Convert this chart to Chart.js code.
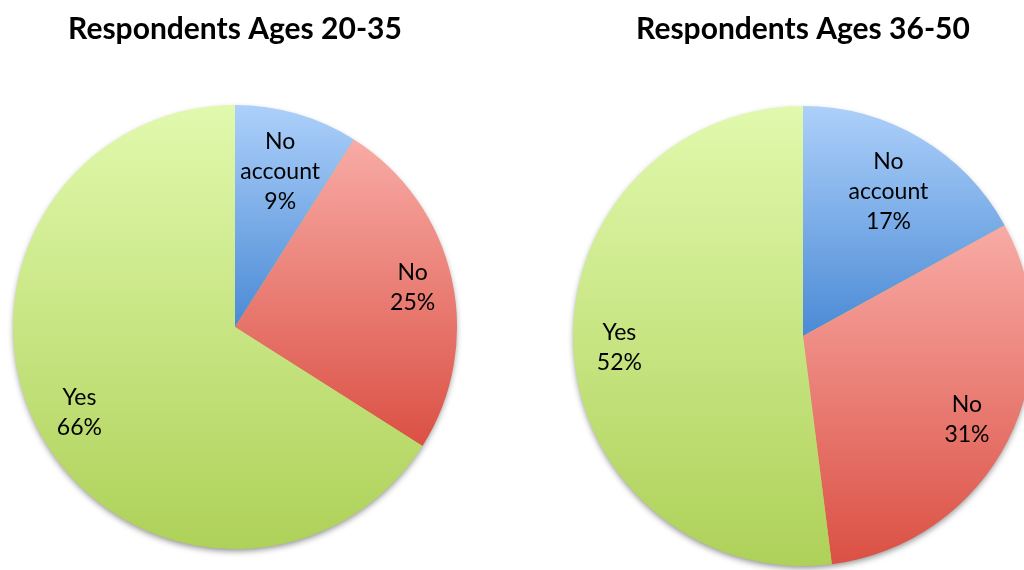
<!DOCTYPE html>
<html>
<head>
<meta charset="utf-8">
<script src="https://cdn.jsdelivr.net/npm/chart.js@4.4.1/dist/chart.umd.min.js"></script>
<style>
  html, body { margin: 0; padding: 0; background: #fff; overflow: hidden; }
  body { width: 1024px; height: 570px; position: relative; }
  .box { position: absolute; top: 0; height: 570px; }
  #left { left: 0; width: 470px; }
  #right { left: 563px; width: 480px; }
</style>
</head>
<body>
<div class="box" id="left"><canvas id="pieYoung"></canvas></div>
<div class="box" id="right"><canvas id="pieOlder"></canvas></div>
<script>
var categories = ["No account", "No", "Yes"];
var young = [9, 25, 66];
var older = [17, 31, 52];
var titles = ["Respondents Ages 20-35", "Respondents Ages 36-50"];

// top / bottom colours of each slice gradient
var topColors = ["#add0fa", "#f8aba5", "#e1f9ad"];
var bottomColors = ["#4a8ad5", "#db5044", "#aed159"];

// how far out (fraction of radius) each label sits
var labelPosYoung = [0.73, 0.82, 0.80];
var labelPosOlder = [0.73, 0.80, 0.80];

function sliceGradient(c) {
  var chart = c.chart, area = chart.chartArea;
  var i = c.dataIndex;
  if (!area) return topColors[i];
  var vals = c.dataset.data;
  var total = vals.reduce(function(a, b){ return a + b; }, 0);
  var cx = (area.left + area.right) / 2, cy = (area.top + area.bottom) / 2;
  var r = Math.min(area.right - area.left, area.bottom - area.top) / 2;
  var before = 0;
  for (var k = 0; k < i; k++) before += vals[k];
  var a0 = -Math.PI / 2 + before / total * Math.PI * 2;
  var a1 = a0 + vals[i] / total * Math.PI * 2;
  var ys = [cy, cy + r * Math.sin(a0), cy + r * Math.sin(a1)];
  // include top / bottom extremes if the arc crosses them
  [-Math.PI / 2, Math.PI / 2, Math.PI * 1.5].forEach(function(a){
    if (a >= a0 && a <= a1) ys.push(cy + r * Math.sin(a));
  });
  var y0 = Math.min.apply(null, ys), y1 = Math.max.apply(null, ys);
  var g = chart.ctx.createLinearGradient(0, y0, 0, y1);
  g.addColorStop(0, topColors[i]);
  g.addColorStop(1, bottomColors[i]);
  return g;
}

// soft shadow under the whole pie
var pieShadow = {
  id: 'pieShadow',
  beforeDatasetsDraw: function(chart) {
    var arc = chart.getDatasetMeta(0).data[0];
    if (!arc) return;
    var p = arc.getProps(['x', 'y', 'outerRadius'], true);
    var ctx = chart.ctx;
    ctx.save();
    ctx.shadowColor = 'rgba(0,0,0,0.45)';
    ctx.shadowBlur = 6;
    ctx.shadowOffsetY = 3;
    ctx.fillStyle = '#b2d262';
    ctx.beginPath();
    ctx.arc(p.x, p.y, p.outerRadius - 1, 0, Math.PI * 2);
    ctx.fill();
    ctx.restore();
  }
};

var sliceLabels = {
  id: 'sliceLabels',
  afterDatasetsDraw: function(chart, args, opts) {
    var ctx = chart.ctx;
    var vals = chart.data.datasets[0].data;
    ctx.save();
    ctx.font = '23px Lato';
    ctx.fillStyle = '#000';
    ctx.textAlign = 'center';
    ctx.textBaseline = 'middle';
    chart.getDatasetMeta(0).data.forEach(function(arc, i) {
      var p = arc.getProps(['x', 'y', 'startAngle', 'endAngle', 'outerRadius'], true);
      var mid = (p.startAngle + p.endAngle) / 2;
      var rr = p.outerRadius * opts.pos[i];
      var x = p.x + Math.cos(mid) * rr, y = p.y + Math.sin(mid) * rr;
      var lines = chart.data.labels[i].split(' ').concat([vals[i] + '%']);
      var lh = 30;
      lines.forEach(function(t, j) {
        ctx.fillText(t, x, y + (j - (lines.length - 1) / 2) * lh);
      });
    });
    ctx.restore();
  }
};

function makePie(id, values, title, pos, pad, titleBottom) {
  return new Chart(document.getElementById(id), {
    type: 'pie',
    data: {
      labels: categories,
      datasets: [{ data: values, backgroundColor: sliceGradient, borderWidth: 0 }]
    },
    options: {
      responsive: true,
      maintainAspectRatio: false,
      animation: false,
      layout: { padding: pad },
      plugins: {
        legend: { display: false },
        tooltip: { enabled: false },
        title: {
          display: true,
          text: title,
          color: '#000',
          font: { family: 'Lato', size: 30, weight: 'bold', lineHeight: 1.2 },
          padding: { top: 11, bottom: titleBottom }
        },
        sliceLabels: { pos: pos }
      }
    },
    plugins: [pieShadow, sliceLabels]
  });
}

makePie('pieYoung', young, titles[0], labelPosYoung, { left: 13, right: 13, top: 0, bottom: 21 }, 58);
makePie('pieOlder', older, titles[1], labelPosOlder, { left: 10, right: 10, top: 0, bottom: 4 }, 59);
</script>
</body>
</html>
